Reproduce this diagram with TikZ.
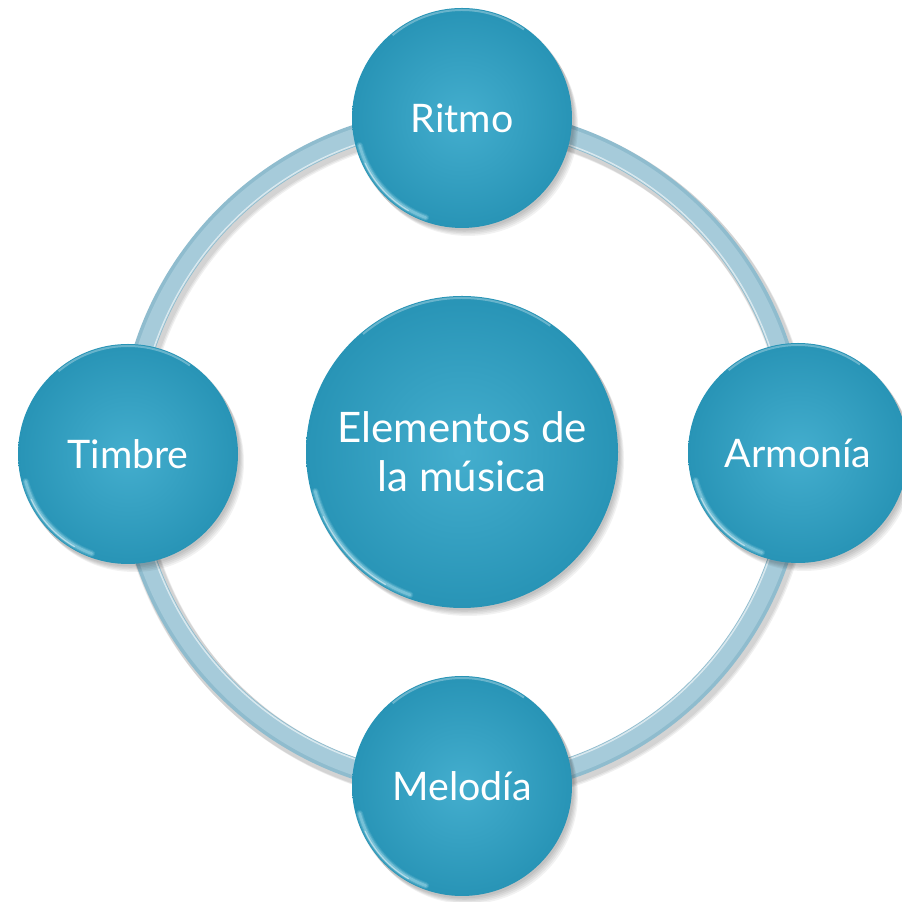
\documentclass[tikz,border=0pt]{standalone}
\usepackage{fontspec}
\setmainfont{Lato}
\usetikzlibrary{calc}
\definecolor{bubin}{RGB}{68,174,206}
\definecolor{bubout}{RGB}{40,148,182}
\definecolor{ringc}{RGB}{166,203,218}
\definecolor{ringd}{RGB}{143,188,206}
\definecolor{glint}{RGB}{200,240,250}
\tikzset{
  bub/.style={circle, minimum size=#1, inner sep=0pt, text=white,
    inner color=bubin, outer color=bubout, align=center},
  bigtext/.style={font=\fontsize{31.5}{37}\selectfont},
  smalltext/.style={font=\fontsize{29.5}{35}\selectfont},
  shad/.style={fill=black, opacity=0.05},
}
\begin{document}
\begin{tikzpicture}[x=0.75pt,y=0.75pt]
\useasboundingbox (0,0) rectangle (901,902);
\fill[white] (0,0) rectangle (901,902);
\coordinate (c) at (462,450);
% ring
\foreach \d in {0,1,2}{
  \draw[black, opacity=0.06, line width=19pt] ($(c)+(2+\d,-3-\d)$) circle (334);
}
\draw[ringd, line width=16pt] (c) circle (334);
\draw[ringc, line width=12pt] (c) circle (333);
\draw[white, opacity=0.6, line width=1.2pt] (c) circle (325);
% shadows of bubbles
\foreach \p/\r in {{462,450}/156,{462,784}/110,{128,448}/110,{798,449}/110,{462,116}/110}{
  \foreach \k in {1,...,5}{
    \fill[shad] ($(\p)+(1.2*\k,-1.6*\k)$) circle (\r+1-0.2*\k);
  }
}
% bubbles
\node[bub=234pt, bigtext] (mid) at (462,450) {Elementos de\\la música};
\node[bub=165pt, smalltext] (rit) at (462,784) {Ritmo};
\node[bub=165pt, smalltext] (tim) at (128,448) {Timbre};
\node[bub=165pt, smalltext] (arm) at (798,449) {Armonía};
\node[bub=165pt, smalltext] (mel) at (462,116) {Melodía};
% glossy rims
\foreach \n/\r in {mid/156,rit/110,tim/110,arm/110,mel/110}{
  \foreach \w/\o in {5/0.12,3.5/0.18,2/0.3}{
    \draw[glint, opacity=\o, line width=\w pt, line cap=round] ($(\n.center)+(195:\r-4)$) arc (195:250:\r-4);
  }
  \draw[white, opacity=0.45, line width=1pt, line cap=round] ($(\n.center)+(205:\r-3)$) arc (205:240:\r-3);
  \draw[white, opacity=0.3, line width=1.5pt] ($(\n.center)+(55:\r-2)$) arc (55:130:\r-2);
}
\end{tikzpicture}
\end{document}
